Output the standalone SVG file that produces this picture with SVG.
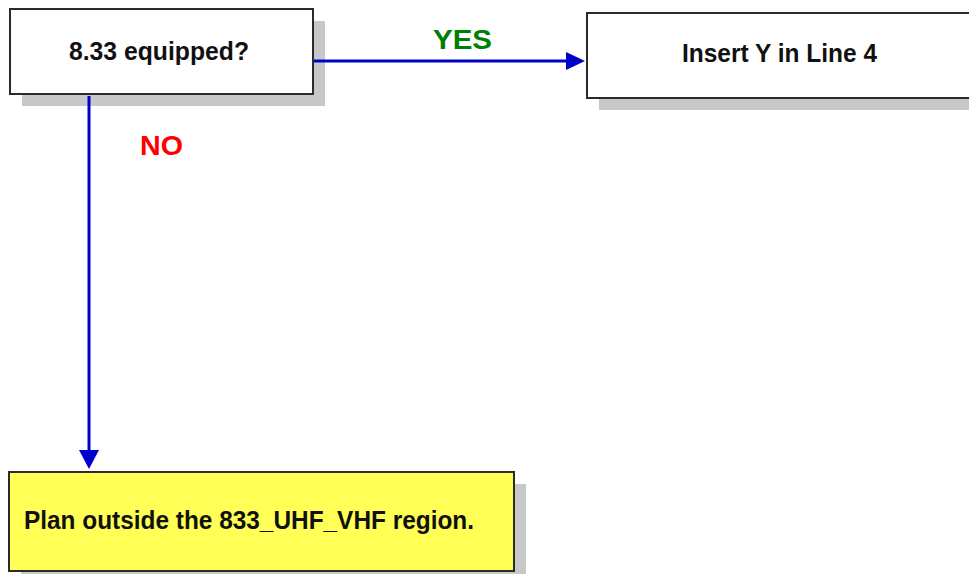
<svg xmlns="http://www.w3.org/2000/svg" width="969" height="574" viewBox="0 0 969 574">
<defs>
<style>
.shadow{fill:#c8c8c8;stroke:none}
.box{fill:#ffffff;stroke:#2b2b2b;stroke-width:2}
.yellow{fill:#ffff55;stroke:#2b2b2b;stroke-width:2}
.txt{font-family:"Liberation Sans",Arial,sans-serif;font-weight:bold;font-size:25px;fill:#111111}
.lbl{font-family:"Liberation Sans",Arial,sans-serif;font-weight:bold;font-size:28px}
.conn{stroke:#0000cc;stroke-width:3;fill:none}
.head{fill:#0000cc;stroke:none}
</style>
</defs>
<rect width="969" height="574" fill="#ffffff"/>
<g id="node-equipped">
<rect class="shadow" x="22" y="21" width="303" height="85"/>
<rect class="box" x="10" y="9" width="303" height="85"/>
<text class="txt" x="69" y="60" textLength="180" lengthAdjust="spacingAndGlyphs">8.33 equipped?</text>
</g>
<g id="node-insert">
<rect class="shadow" x="599" y="25" width="400" height="85"/>
<rect class="box" x="587" y="13" width="400" height="85"/>
<text class="txt" x="682" y="62" textLength="195" lengthAdjust="spacingAndGlyphs">Insert Y in Line 4</text>
</g>
<g id="node-plan">
<rect class="shadow" x="21" y="484" width="505" height="99"/>
<rect class="yellow" x="9" y="472" width="505" height="99"/>
<text class="txt" x="24" y="529" textLength="450" lengthAdjust="spacingAndGlyphs">Plan outside the 833_UHF_VHF region.</text>
</g>
<g id="connectors">
<line class="conn" x1="314" y1="61" x2="567" y2="61"/>
<polygon class="head" points="566,52 585,61 566,70"/>
<line class="conn" x1="89" y1="96" x2="89" y2="451"/>
<polygon class="head" points="79,450 99,450 89,469"/>
<text class="lbl" x="433" y="49" fill="#008000" textLength="59" lengthAdjust="spacingAndGlyphs">YES</text>
<text class="lbl" x="140" y="155" fill="#ff0000" textLength="43" lengthAdjust="spacingAndGlyphs">NO</text>
</g>
</svg>
